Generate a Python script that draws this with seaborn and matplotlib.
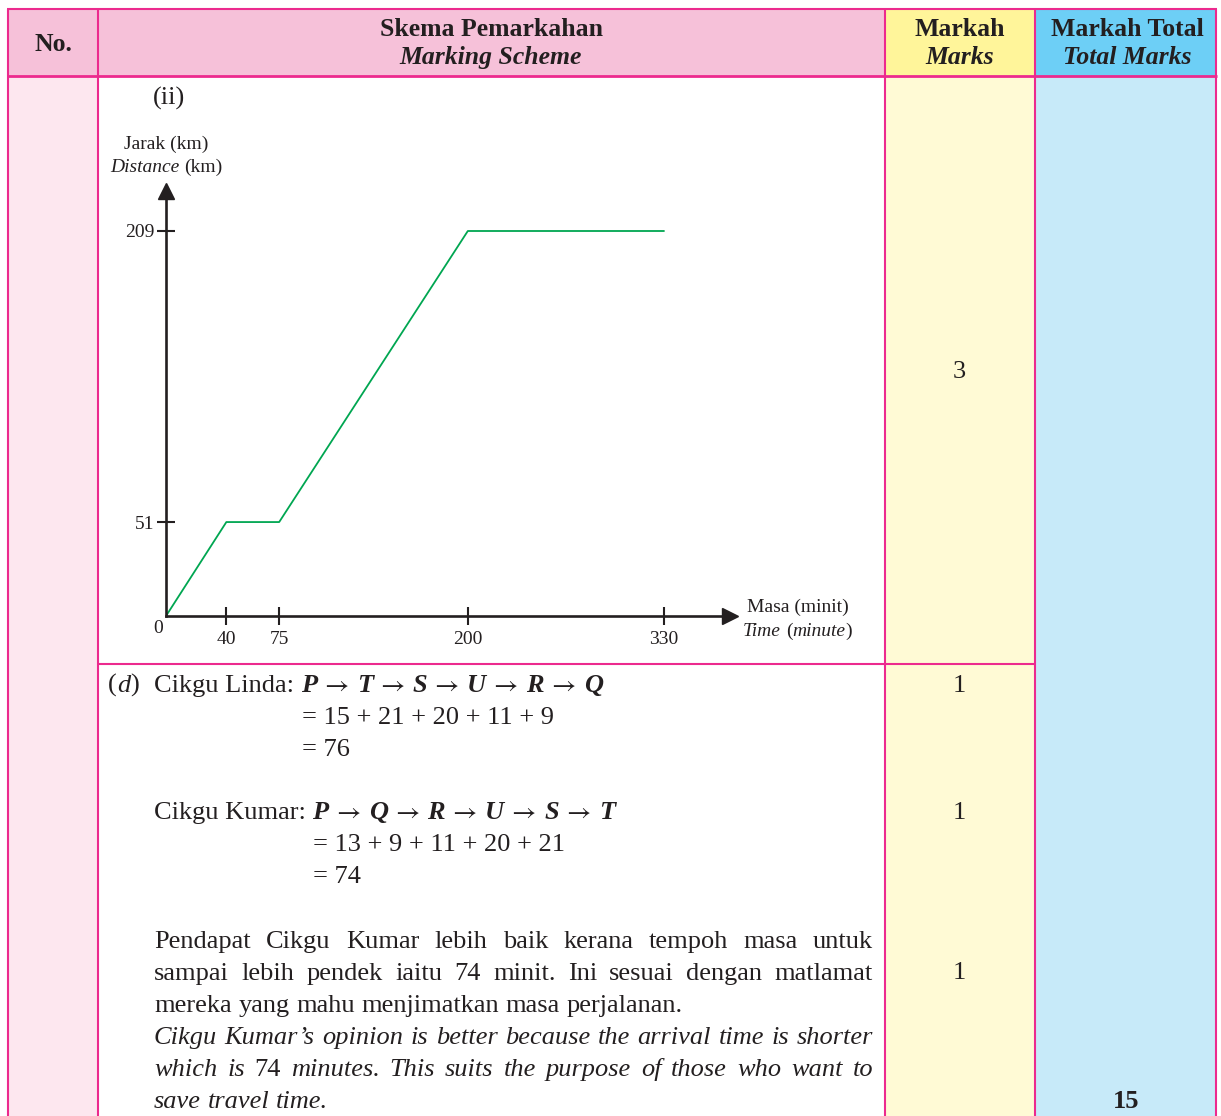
import numpy as np
import pandas as pd
import matplotlib
matplotlib.use("Agg")
import matplotlib.pyplot as plt
import seaborn as sns
from matplotlib.patches import Rectangle
from matplotlib.lines import Line2D

# ---------------- data ----------------
time_min = [0, 40, 75, 200, 330]
distance_km = [0, 51, 51, 209, 209]
x_ticks = [40, 75, 200, 330]
y_ticks = [51, 209]
marks = ["3", "1", "1", "1"]
total_marks = "15"
linda_route = ["P", "T", "S", "U", "R", "Q"]
linda_dist = [15, 21, 20, 11, 9]
kumar_route = ["P", "Q", "R", "U", "S", "T"]
kumar_dist = [13, 9, 11, 20, 21]
para_my = ["Pendapat Cikgu Kumar lebih baik kerana tempoh masa untuk",
           "sampai lebih pendek iaitu 74 minit. Ini sesuai dengan matlamat",
           "mereka yang mahu menjimatkan masa perjalanan."]
para_en = ["Cikgu Kumar\u2019s opinion is better because the arrival time is shorter",
           "which is 74 minutes. This suits the purpose of those who want to",
           "save travel time."]

# ---------------- style ----------------
W, H, DPI = 1221, 1116, 100
sns.set_theme(style="white")
SERIF = ['Liberation Serif', 'DejaVu Serif']
plt.rcParams['font.family'] = SERIF
plt.rcParams['mathtext.fontset'] = 'stix'
TXT = '#231F20'
PINK = '#EC2A8E'
GREEN = '#00A651'
BODY = 19
HEAD = 18.5
CH = 14
ARROW = r'$\rightarrow$'

fig = plt.figure(figsize=(W / DPI, H / DPI), dpi=DPI)
fig.patch.set_facecolor('white')
R = fig.canvas.get_renderer()


def rect(x0, y0, x1, y1, c):
    fig.add_artist(Rectangle((x0 / W, 1 - y1 / H), (x1 - x0) / W, (y1 - y0) / H,
                             transform=fig.transFigure, facecolor=c,
                             edgecolor='none', zorder=0))


def hline(x0, x1, y, lw=1.5, c=PINK):
    fig.add_artist(Line2D([x0 / W, x1 / W], [1 - y / H, 1 - y / H],
                          transform=fig.transFigure, color=c, lw=lw, zorder=1,
                          solid_capstyle='butt'))


def vline(x, y0, y1, lw=1.5, c=PINK):
    fig.add_artist(Line2D([x / W, x / W], [1 - y0 / H, 1 - y1 / H],
                          transform=fig.transFigure, color=c, lw=lw, zorder=1,
                          solid_capstyle='butt'))


def T(x, y, s, size=BODY, weight='normal', style='normal', ha='left',
      va='baseline', color=TXT):
    return fig.text(x / W, 1 - y / H, s, fontsize=size, fontweight=weight,
                    fontstyle=style, ha=ha, va=va, color=color, family=SERIF,
                    zorder=5)


def raw_w(s, **kw):
    t = T(0, 0, s, **kw)
    w = t.get_window_extent(renderer=R).width
    t.remove()
    return w


def w_of(s, **kw):
    return raw_w('|' + s + '|', **kw) - raw_w('||', **kw)


def draw_runs(x, y, runs, ha='left'):
    total = sum(w_of(s, **kw) for s, kw in runs)
    if ha == 'center':
        x -= total / 2
    for s, kw in runs:
        if s.strip():
            T(x, y, s, **kw)
        x += w_of(s, **kw)
    return x


def justify(x0, x1, y, words):
    ws = [w_of(s, **kw) for s, kw in words]
    gap = (x1 - x0 - sum(ws)) / (len(words) - 1)
    x = x0
    for (s, kw), w in zip(words, ws):
        T(x, y, s, **kw)
        x += w + gap


N = dict()
I = dict(style='italic')
B = dict(weight='bold')
BI = dict(weight='bold', style='italic')
THIN = dict(size=11.5)

# ---------------- table backgrounds ----------------
rect(8, 9, 885, 76, '#F6C1D9')
rect(885, 9, 1035, 76, '#FFF59A')
rect(1035, 9, 1216, 76, '#6DCFF6')
rect(8, 76, 98, H, '#FDE7EF')
rect(885, 76, 1035, H, '#FFFAD5')
rect(1035, 76, 1216, H, '#C7EAF9')

hline(7, 1217, 9)
hline(7, 1217, 76, lw=2)
hline(98, 1035, 664)
for xv in (8, 98, 885, 1035, 1216):
    vline(xv, 9, H)

# ---------------- header ----------------
T(53, 51, "No.", size=HEAD, weight='bold', ha='center')
T(491, 36, "Skema Pemarkahan", size=HEAD, weight='bold', ha='center')
T(491, 64, "Marking Scheme", size=HEAD, weight='bold', style='italic', ha='center')
T(960, 36, "Markah", size=HEAD, weight='bold', ha='center')
T(960, 64, "Marks", size=HEAD, weight='bold', style='italic', ha='center')
T(1127, 36, "Markah Total", size=HEAD, weight='bold', ha='center')
T(1127, 64, "Total Marks", size=HEAD, weight='bold', style='italic', ha='center')

# ---------------- chart ----------------
T(153, 105, "(ii)")
ax_l, ax_r, ax_b, ax_t = 166, 730, 616, 191
px_per_x = (664 - 166) / 330.0
px_per_y = (616 - 231) / 209.0
ax = fig.add_axes([ax_l / W, 1 - ax_b / H, (ax_r - ax_l) / W, (ax_b - ax_t) / H])
ax.set_zorder(3)
ax.patch.set_alpha(0)
df = pd.DataFrame({'Masa': time_min, 'Jarak': distance_km})
sns.lineplot(data=df, x='Masa', y='Jarak', ax=ax, color=GREEN, lw=1.3,
             sort=False, legend=False)
ax.set_xlim(0, (ax_r - ax_l) / px_per_x)
ax.set_ylim(0, (ax_b - ax_t) / px_per_y)
for s in ('top', 'right'):
    ax.spines[s].set_visible(False)
for s in ('left', 'bottom'):
    ax.spines[s].set_color(TXT)
    ax.spines[s].set_linewidth(1.9)
ax.plot(1, 0, '>', color=TXT, ms=11, transform=ax.transAxes, clip_on=False)
ax.plot(0, 1, '^', color=TXT, ms=11, transform=ax.transAxes, clip_on=False)
ax.set_xticks(x_ticks)
ax.set_xticklabels([str(v) for v in x_ticks])
ax.set_yticks(y_ticks)
ax.set_yticklabels([str(v) for v in y_ticks])
ax.tick_params(axis='both', which='major', direction='inout', length=13,
               width=1.5, color=TXT, labelsize=CH, labelcolor=TXT,
               bottom=True, left=True)
ax.tick_params(axis='x', pad=4)
ax.tick_params(axis='y', pad=2)
ax.set_xlabel('')
ax.set_ylabel('')
ax.grid(False)

T(158, 633, "0", size=CH, ha='center')
T(166, 149, "Jarak (km)", size=CH, ha='center')
draw_runs(166, 172, [("Distance", dict(size=CH, style='italic')), (" ", dict(size=CH)),
                     ("(km)", dict(size=CH))], ha='center')
T(747, 612, "Masa (minit)", size=CH)
draw_runs(743, 636, [("Time", dict(size=CH, style='italic')), (" ", dict(size=CH)),
                     ("(", dict(size=CH)), ("minute", dict(size=CH, style='italic')),
                     (")", dict(size=CH))])

# ---------------- part (d) ----------------
def route_runs(route):
    runs = []
    for i, p in enumerate(route):
        runs.append((p, BI))
        if i < len(route) - 1:
            runs += [(" ", THIN), (ARROW, N), (" ", THIN)]
    return runs


draw_runs(108, 692, [("(", N), ("d", I), (")", N)])
draw_runs(154, 692, [("Cikgu Linda:", N), (" ", N)] + route_runs(linda_route))
T(302, 724, "= " + " + ".join(str(v) for v in linda_dist))
T(302, 756, "= " + str(sum(linda_dist)))

draw_runs(154, 819, [("Cikgu Kumar:", N), (" ", N)] + route_runs(kumar_route))
T(313, 851, "= " + " + ".join(str(v) for v in kumar_dist))
T(313, 883, "= " + str(sum(kumar_dist)))

y = 948
for i, line in enumerate(para_my):
    words = [(w, N) for w in line.split()]
    if i < len(para_my) - 1:
        justify(154, 873, y, words)
    else:
        draw_runs(154, y, sum([[(w, N), (" ", N)] for w in line.split()], [])[:-1])
    y += 32
for i, line in enumerate(para_en):
    words = [(w, N if w.strip('.').isdigit() else I) for w in line.split()]
    if i < len(para_en) - 1:
        justify(154, 873, y, words)
    else:
        draw_runs(154, y, sum([[w, (" ", I)] for w in words], [])[:-1])
    y += 32

# ---------------- marks ----------------
mark_y = [378, 692, 819, 979]
for m, yy in zip(marks, mark_y):
    T(959, yy, m, ha='center')
T(1126, 1108, total_marks, weight='bold', ha='center')

fig.savefig("out.png", dpi=DPI)
